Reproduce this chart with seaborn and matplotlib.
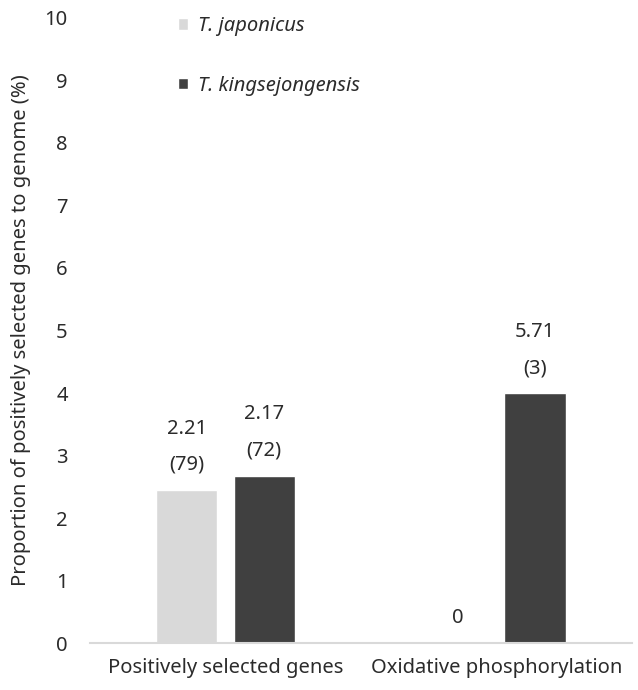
import matplotlib
matplotlib.use("Agg")
import matplotlib.pyplot as plt
import seaborn as sns
import pandas as pd

categories = ["Positively selected genes", "Oxidative phosphorylation"]
species = ["T. japonicus", "T. kingsejongensis"]
japonicus_vals = [2.45, 0.0]
kingsejongensis_vals = [2.68, 4.0]
japonicus_pct = ["2.21", "0"]
kingsejongensis_pct = ["2.17", "5.71"]
japonicus_counts = ["(79)", ""]
kingsejongensis_counts = ["(72)", "(3)"]
y_ticks = [0, 1, 2, 3, 4, 5, 6, 7, 8, 9, 10]
y_label = "Proportion of positively selected genes to genome (%)"
colors = ["#d9d9d9", "#404040"]
text_color = "#2b2b2b"
fs = 14.5

df = pd.DataFrame({
    "category": categories * 2,
    "species": [species[0]] * 2 + [species[1]] * 2,
    "value": japonicus_vals + kingsejongensis_vals,
})

sns.set_theme(style="white")
plt.rcParams["font.family"] = ["Noto Sans", "DejaVu Sans"]

fig = plt.figure(figsize=(6.38, 6.90), dpi=100)
ax = fig.add_axes([0.141, 0.068, 0.849, 0.906])

sns.barplot(data=df, x="category", y="value", hue="species", order=categories,
            hue_order=species, palette=colors, width=0.572, gap=0.21,
            saturation=1, ax=ax)

ax.set_xlim(-0.5, 1.5)
ax.set_ylim(0, 10)
ax.set_yticks(y_ticks)
ax.set_yticklabels([str(t) for t in y_ticks])
ax.tick_params(axis="y", length=0, pad=16, labelsize=fs, labelcolor=text_color)
ax.tick_params(axis="x", length=0, pad=11, labelsize=fs, labelcolor=text_color)
ax.set_xlabel("")
ax.set_ylabel(y_label, fontsize=fs, color=text_color)
ax.yaxis.set_label_coords(-0.108, 0.5)
for s in ["top", "right", "left"]:
    ax.spines[s].set_visible(False)
ax.spines["bottom"].set_color("#d9d9d9")
ax.spines["bottom"].set_linewidth(1.5)

pct_labels = [japonicus_pct, kingsejongensis_pct]
count_labels = [japonicus_counts, kingsejongensis_counts]
for ci, cont in enumerate(ax.containers):
    for bi, bar in enumerate(cont):
        xc = bar.get_x() + bar.get_width() / 2
        h = bar.get_height()
        cnt = count_labels[ci][bi]
        pct = pct_labels[ci][bi]
        if cnt:
            ax.annotate(cnt, (xc, h), xytext=(0, 18), textcoords="offset points",
                        ha="center", va="center", fontsize=fs, color=text_color)
            ax.annotate(pct, (xc, h), xytext=(0, 44), textcoords="offset points",
                        ha="center", va="center", fontsize=fs, color=text_color)
        else:
            ax.annotate(pct, (xc, h), xytext=(0, 18), textcoords="offset points",
                        ha="center", va="center", fontsize=fs, color=text_color)

leg = ax.legend(loc="upper left", bbox_to_anchor=(0.163, 1.003), frameon=False,
                fontsize=fs, labelspacing=1.96, handlelength=0.5, handleheight=0.5,
                handletextpad=0.5, borderpad=0, borderaxespad=0)
for t in leg.get_texts():
    t.set_fontstyle("italic")
    t.set_color(text_color)

fig.savefig("out.png", dpi=100)
